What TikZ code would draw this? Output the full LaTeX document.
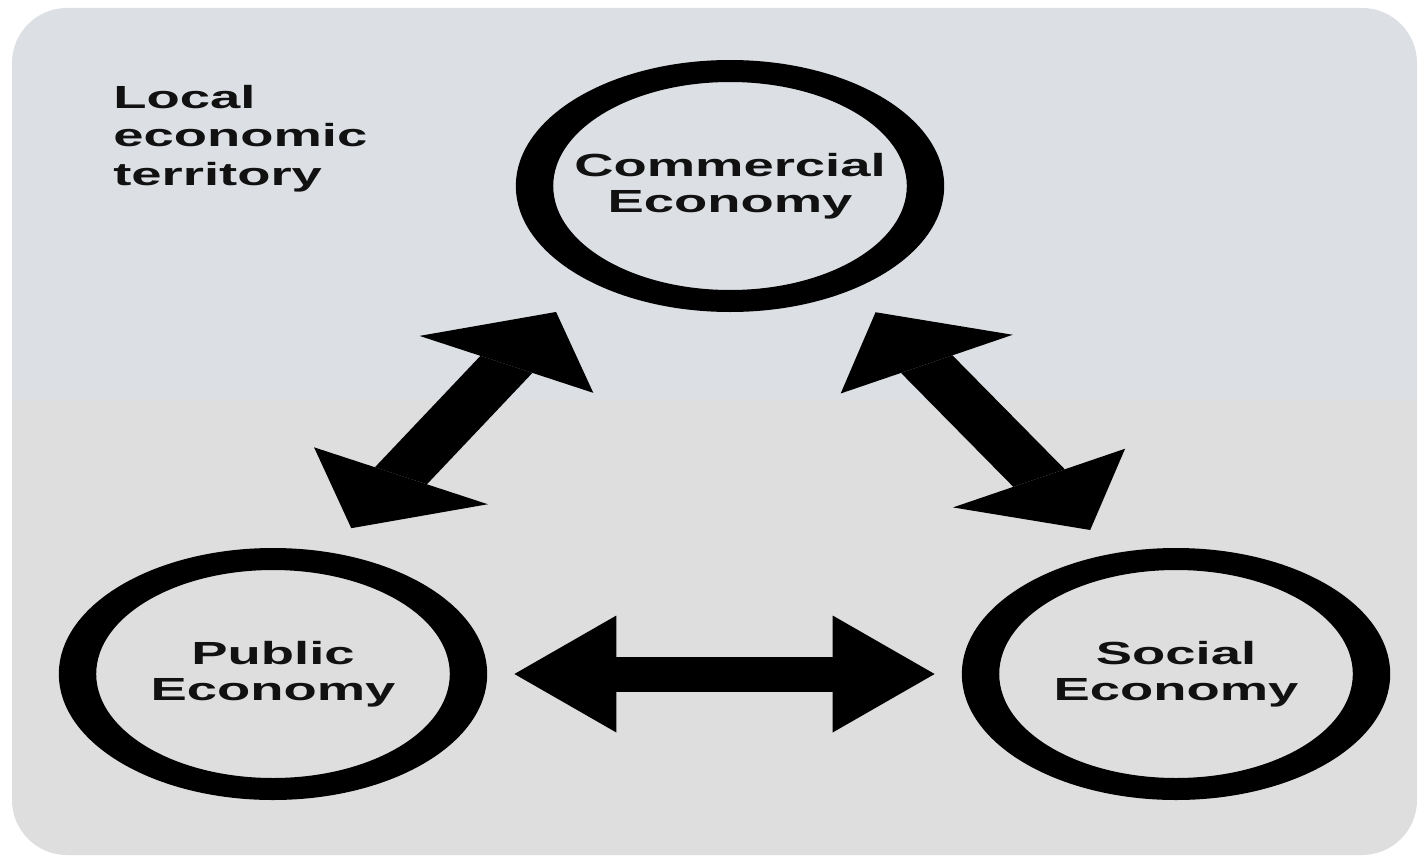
\documentclass[tikz,border=0pt]{standalone}
\usepackage{fontspec}
\setmainfont{Liberation Sans}
\usetikzlibrary{arrows.meta}
\definecolor{topbg}{HTML}{DCE0E5}
\definecolor{botbg}{HTML}{DEDEDE}
\definecolor{ink}{HTML}{111111}
\tikzset{
  econ/.style={circle, draw=black, line width=22pt, minimum size=230pt, inner sep=0pt,
    align=center, text=ink, font=\bfseries\fontsize{32}{36.5}\selectfont},
  bigarrow/.style={line width=35pt, draw=black,
    {Triangle[length=60pt,width=117pt,line width=0pt]}-{Triangle[length=60pt,width=117pt,line width=0pt]}},
  label/.style={anchor=north west, inner sep=0pt, align=left, text=ink,
    font=\bfseries\fontsize{32}{38.5}\selectfont}
}
\begin{document}
\begin{tikzpicture}[x=1pt,y=-1pt]
\useasboundingbox (0,0) rectangle (1420,864);
\fill[white] (0,0) rectangle (1420,864);
\begin{scope}
  \clip[rounded corners=55pt] (12,8) rectangle (1417,855);
  \fill[topbg] (0,0) rectangle (1420,400);
  \fill[botbg] (0,400) rectangle (1420,864);
\end{scope}
\begin{scope}[x=0.588235pt, transform canvas={xscale=1.7}]
  \node[label] (terr) at (113,85) {Local\\economic\\territory};
  \node[econ] (com) at (730,186) {Commercial\\Economy};
  \node[econ] (pub) at (273,674) {Public\\Economy};
  \node[econ] (soc) at (1176,674) {Social\\Economy};
  \draw[bigarrow, shorten <=27.6pt, shorten >=37pt] (pub.75.5) -- (com.228.9);
  \draw[bigarrow, shorten <=26.6pt, shorten >=27.2pt] (com.305.2) -- (soc.107.1);
  \draw[bigarrow, shorten <=16pt, shorten >=16pt] (pub.east) -- (soc.west);
\end{scope}
\end{tikzpicture}
\end{document}
